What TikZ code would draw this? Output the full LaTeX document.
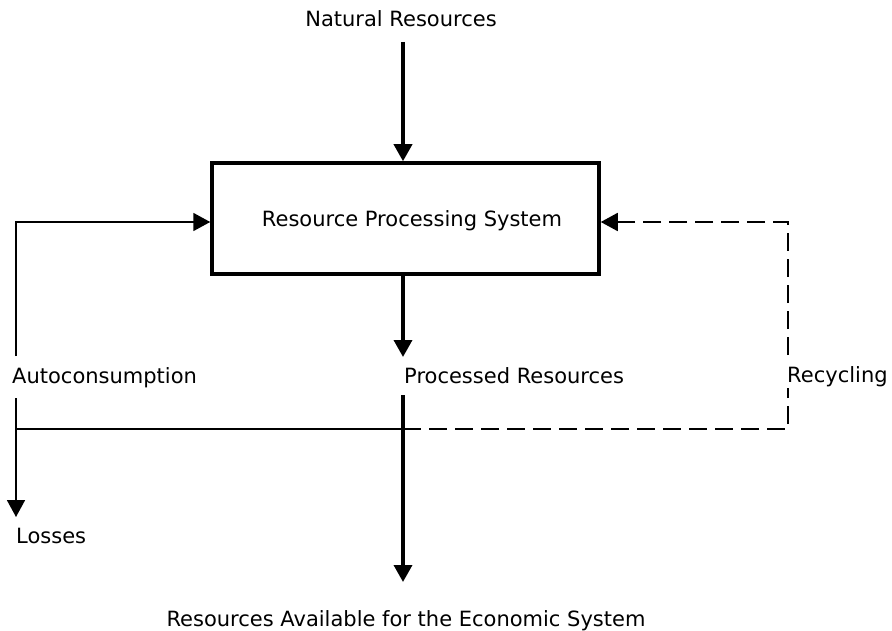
\documentclass[tikz,border=0pt]{standalone}
\usepackage{fontspec}
\setmainfont{DejaVu Sans}
\usetikzlibrary{arrows.meta}
\begin{document}
\begin{tikzpicture}[x=1pt,y=-1pt,
  lbl/.style={font=\fontsize{21}{25}\selectfont, inner sep=0pt},
  thickline/.style={line width=3.5pt},
  thinline/.style={line width=1.8pt},
  tip/.style={-{Triangle[length=17pt,width=18pt]}},
  dashline/.style={line width=1.8pt, dash pattern=on 18pt off 8pt},
  boxstyle/.style={draw, line width=3.5pt, minimum width=387pt, minimum height=111pt, inner sep=0pt}]
\useasboundingbox (0,0) rectangle (892,631);
% box
\node[boxstyle] (box) at (405.5,218.5) {};
\node[lbl, anchor=base] (boxtxt) at (412,227) {Resource Processing System};
% labels
\node[lbl, anchor=base] (nat) at (401,27) {Natural Resources};
\node[lbl, anchor=base west] (auto) at (12,383) {Autoconsumption};
\node[lbl, anchor=base west] (proc) at (404,383) {Processed Resources};
\node[lbl, anchor=base west] (recy) at (787,382) {Recycling};
\node[lbl, anchor=base west] (loss) at (16,543) {Losses};
\node[lbl, anchor=base] (eco) at (406,626) {Resources Available for the Economic System};
% coordinates
\coordinate (ntop) at (403,42);
\coordinate (ptip) at (403,357);
\coordinate (pbot) at (403,395);
\coordinate (etip) at (403,582);
\coordinate (j) at (403,429);
\coordinate (L0) at (16,222);
\coordinate (L1) at (16,356);
\coordinate (L2) at (16,398);
\coordinate (L3) at (16,429);
\coordinate (Ltip) at (16,517);
\coordinate (R0) at (788,222);
\coordinate (R1) at (788,355);
\coordinate (R2) at (788,388);
\coordinate (R3) at (788,429);
% connectors
\draw[thickline,tip] (ntop) -- (ntop |- box.north);
\draw[thickline,tip] (j |- box.south) -- (ptip);
\draw[thickline,tip] (pbot) -- (etip);
\draw[thinline,tip] (L1) -- (L0) -- (L0 -| box.west);
\draw[thinline,tip] (L2) -- (Ltip);
\draw[thinline] (L3) -- (j);
\draw[dashline] (j) -- (R3) -- (R2);
\draw[dashline,tip] (R1) -- (R0) -- (R0 -| box.east);
\end{tikzpicture}
\end{document}
